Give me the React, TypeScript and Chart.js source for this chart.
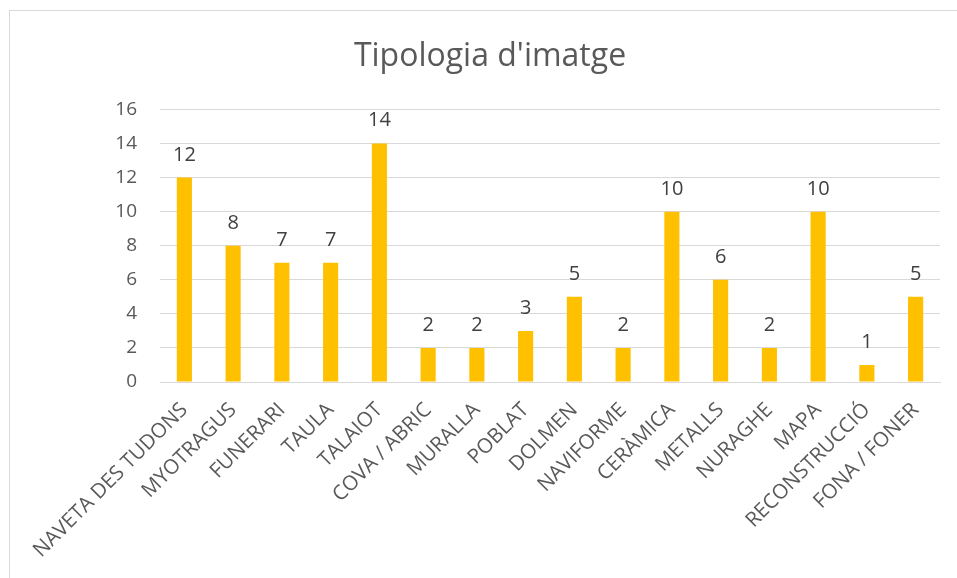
import React, { useEffect, useRef } from "react";
import { Chart, registerables } from "chart.js";

Chart.register(...registerables);

const categories = [
  "NAVETA DES TUDONS",
  "MYOTRAGUS",
  "FUNERARI",
  "TAULA",
  "TALAIOT",
  "COVA / ABRIC",
  "MURALLA",
  "POBLAT",
  "DOLMEN",
  "NAVIFORME",
  "CERÀMICA",
  "METALLS",
  "NURAGHE",
  "MAPA",
  "RECONSTRUCCIÓ",
  "FONA / FONER",
];
const values = [12, 8, 7, 7, 14, 2, 2, 3, 5, 2, 10, 6, 2, 10, 1, 5];
const titleText = "Tipologia d'imatge";
const yMin = 0;
const yMax = 16;
const yStep = 2;

const FONT = "'Open Sans', sans-serif";
const TEXT = "#595959";

const dataLabels = {
  id: "dataLabels",
  afterDatasetsDraw(chart: any) {
    const ctx = chart.ctx;
    const meta = chart.getDatasetMeta(0);
    ctx.save();
    ctx.font = `20px ${FONT}`;
    ctx.fillStyle = "#404040";
    ctx.textAlign = "center";
    ctx.textBaseline = "alphabetic";
    meta.data.forEach((bar: any, i: number) => {
      ctx.fillText(String(values[i]), bar.x, bar.y - 17);
    });
    ctx.restore();
  },
};

export default function App() {
  const ref = useRef<HTMLCanvasElement | null>(null);
  useEffect(() => {
    if (!ref.current) return;
    const chart = new Chart(ref.current, {
      type: "bar",
      data: {
        labels: categories,
        datasets: [
          {
            data: values,
            backgroundColor: "#FFC000",
            barPercentage: 0.62,
            categoryPercentage: 0.5,
          },
        ],
      },
      options: {
        animation: false,
        responsive: false,
        layout: { padding: { left: 40, right: 17, top: 0, bottom: 0 } },
        plugins: {
          legend: { display: false },
          tooltip: { enabled: false },
          title: {
            display: true,
            text: titleText,
            color: TEXT,
            font: { family: FONT, size: 32, weight: "normal", lineHeight: 1.2 },
            padding: { top: 38, bottom: 33 },
          },
        },
        scales: {
          x: {
            grid: { display: false, drawTicks: false },
            border: { display: true, color: "#d9d9d9", width: 1 },
            ticks: {
              color: TEXT,
              font: { family: FONT, size: 20.5 },
              minRotation: 45,
              maxRotation: 45,
              autoSkip: false,
              padding: 16,
            },
            afterFit: (s: any) => {
              s.height = 196;
            },
          },
          y: {
            min: yMin,
            max: yMax,
            grid: { color: "#d9d9d9", lineWidth: 1, drawTicks: false },
            border: { display: false },
            ticks: {
              stepSize: yStep,
              color: TEXT,
              font: { family: FONT, size: 19 },
              padding: 23,
            },
            afterFit: (s: any) => {
              s.width = 120;
            },
          },
        },
      },
      plugins: [dataLabels],
    });
    return () => chart.destroy();
  }, []);
  return (
    <div
      style={{
        position: "fixed",
        left: 0,
        top: 0,
        width: 957,
        height: 578,
        overflow: "hidden",
        background: "#fff",
      }}
    >
      <div
        style={{
          position: "absolute",
          left: 9,
          top: 10,
          width: 1000,
          height: 1000,
          border: "1px solid #d9d9d9",
        }}
      />
      <canvas
        ref={ref}
        width={957}
        height={578}
        style={{ position: "absolute", left: 0, top: 0, width: 957, height: 578 }}
      />
    </div>
  );
}
